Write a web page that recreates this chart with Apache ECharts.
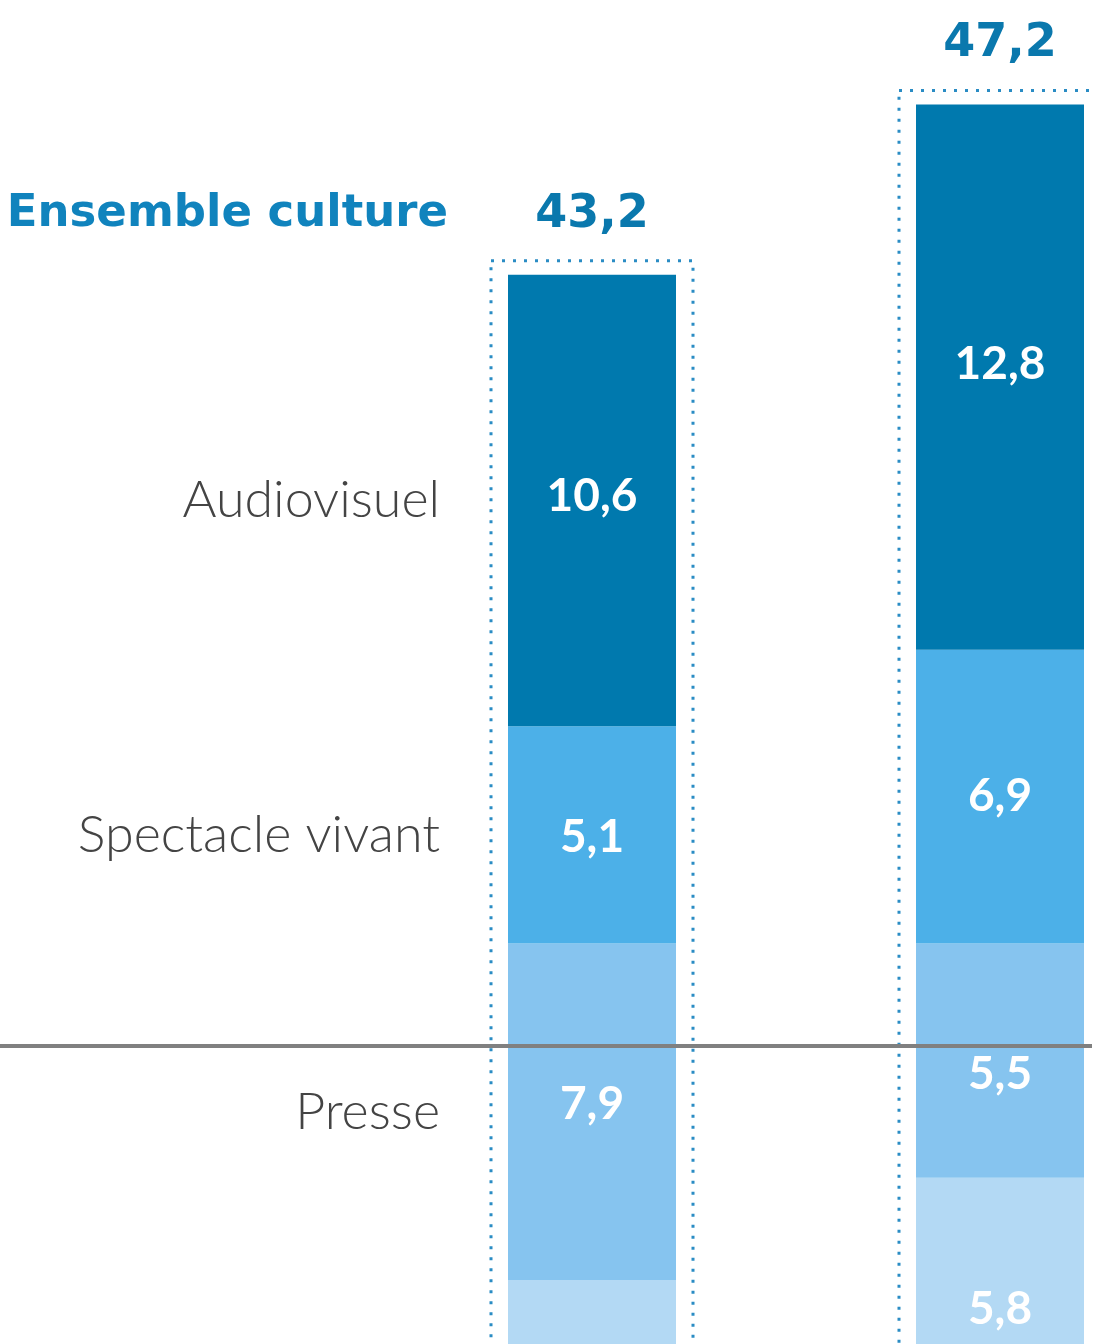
<!DOCTYPE html>
<html><head><meta charset="utf-8">
<script src="https://cdn.jsdelivr.net/npm/echarts@6/dist/echarts.min.js"></script>
<style>html,body{margin:0;padding:0;background:#fff}#c{width:1095px;height:1344px}</style>
</head><body><div id="c"></div>
<script>
// ---- data (hidden lower segments estimated) ----
const periods = ['Période 1', 'Période 2'];
const audiovisuel = [10.6, 12.8];
const spectacleVivant = [5.1, 6.9];
const presse = [7.9, 5.5];
const publicite = [5.0, 5.8];
const autres = [14.6, 16.2];
const totals = [43.2, 47.2];
const totalLabel = 'Ensemble culture';
const separatorValue = 25.1;

// ---- styles ----
const colors = {
  'Audiovisuel': '#0079ae',
  'Spectacle vivant': '#4cb0e8',
  'Presse': '#86c4ef',
  'Publicité': '#b3d9f4',
  'Autres': '#d6ebf9'
};
// small vertical nudges of the value labels, as in the original layout
const labelNudge = {
  'Audiovisuel': [-4, -13],
  'Spectacle vivant': [2, 0],
  'Presse': [-8, 13],
  'Publicité': [0, 8]
};
const VALUE_FONT = 'Lato';
const NAME_FONT = 'Lato';
const TITLE_FONT = 'DejaVu Sans';
const fmt = v => Number(v).toFixed(1).replace('.', ',');

// stack order bottom -> top
const stackOrder = [
  ['Autres', autres],
  ['Publicité', publicite],
  ['Presse', presse],
  ['Spectacle vivant', spectacleVivant],
  ['Audiovisuel', audiovisuel]
];

const series = [];
stackOrder.forEach(([name, vals]) => {
  const nudge = labelNudge[name] || [0, 0];
  series.push({
    name, type: 'bar', stack: 'total', barWidth: 168, barGap: '-100%', clip: false,
    data: vals.map((v, i) => ({
      value: v,
      label: { offset: [0, nudge[i]] }
    })),
    itemStyle: { color: colors[name] },
    label: {
      show: name !== 'Autres', position: 'inside', color: '#fff',
      fontFamily: VALUE_FONT, fontWeight: 'bold', fontSize: 46,
      formatter: p => fmt(p.value)
    }
  });
});
// names column, aligned on the first bar's segments
stackOrder.forEach(([name, vals]) => {
  series.push({
    name: name + ' (libellé)', type: 'bar', stack: 'names', barWidth: 168, barGap: '-100%', clip: false,
    data: [vals[0], '-'],
    itemStyle: { color: 'rgba(0,0,0,0)' },
    silent: true,
    label: {
      show: name !== 'Autres' && name !== 'Publicité', position: 'left', distance: 68,
      color: '#444444', fontFamily: NAME_FONT, fontWeight: 300, fontSize: 52,
      formatter: () => name
    }
  });
});
// separator line across the whole picture
series[series.length - 1].markLine = {
  silent: true, symbol: 'none', z: 10,
  lineStyle: { color: '#808080', width: 4, type: 'solid' },
  label: { show: false },
  data: [[{ x: 0, yAxis: separatorValue }, { x: 1092, yAxis: separatorValue }]]
};
// total boxes + totals
series.push({
  type: 'custom', name: 'Total', z: 3,
  data: totals.map((t, i) => [i, t]),
  renderItem: (params, api) => {
    const top = api.coord([api.value(0), api.value(1)]);
    const base = api.coord([api.value(0), 0]);
    const half = 101, pad = 14;
    const children = [{
      type: 'rect',
      shape: { x: top[0] - half, y: top[1] - pad, width: half * 2, height: base[1] - top[1] + pad },
      style: { fill: 'none', stroke: '#2a8cc4', lineWidth: 3, lineDash: [3, 8] }
    }, {
      type: 'text',
      style: {
        x: top[0], y: top[1] - pad - 46, text: fmt(api.value(1)),
        align: 'center', verticalAlign: 'middle',
        font: 'bold 46px ' + TITLE_FONT, fill: '#0a78ad'
      }
    }];
    if (params.dataIndex === 0) {
      children.push({
        type: 'text',
        style: {
          x: top[0] - 144, y: top[1] - pad - 46, text: totalLabel,
          align: 'right', verticalAlign: 'middle',
          font: 'bold 45px ' + TITLE_FONT, fill: '#1083bd'
        }
      });
    }
    return { type: 'group', children };
  }
});

const chart = echarts.init(document.getElementById('c'));
chart.setOption({
  animation: false,
  backgroundColor: '#fff',
  grid: { left: 592, right: 95, top: 6.4, bottom: 0, containLabel: false },
  xAxis: { type: 'category', data: periods, boundaryGap: false, show: false },
  yAxis: { type: 'value', min: 18.1, max: 49.5, show: false, splitLine: { show: false } },
  series
});
</script></body></html>
